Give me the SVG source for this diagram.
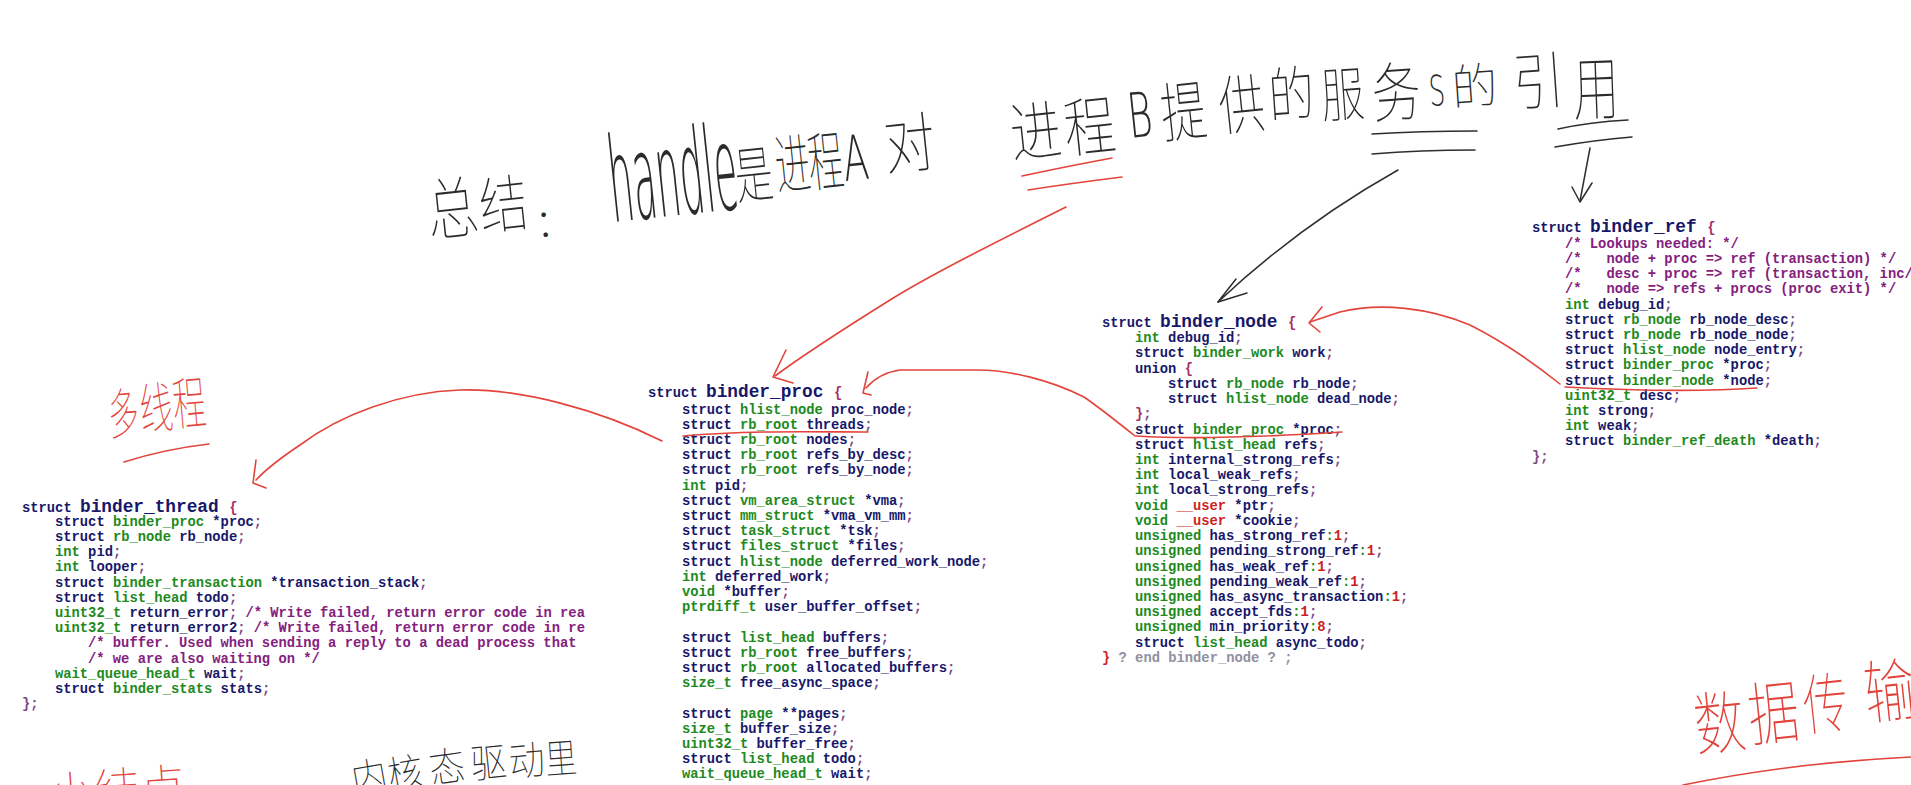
<svg xmlns="http://www.w3.org/2000/svg" width="1911" height="785" viewBox="0 0 1911 785">
<style>
.c{font-family:"Liberation Mono","Courier New",monospace;font-weight:bold;font-size:13.8px;white-space:pre}
.h{font-size:17.8px}
.n{fill:#17176a}
.g{fill:#208a20}
.p{fill:#7c4a88}
.m{fill:#84207e}
.r{fill:#cc2222}
.b{fill:#a8306a}
.e{fill:#9090a0}
.hr{fill:none;stroke:#e2433b;stroke-width:1.6;stroke-linecap:round;stroke-linejoin:round}
.hb{fill:none;stroke:#2e2e2e;stroke-width:1.5;stroke-linecap:round;stroke-linejoin:round}
.cjk{font-family:"Noto Sans CJK SC","Noto Sans CJK JP",sans-serif;font-weight:100;text-anchor:middle}
.lat{font-family:"DejaVu Sans","Liberation Sans",sans-serif;font-weight:200}
.tk{fill:#2b2b2b}
.tr{fill:#e2433b}
</style>
<defs>
<clipPath id="clipThread"><rect x="0" y="0" width="590" height="785"/></clipPath>
</defs>
<rect width="1911" height="785" fill="#ffffff"/>

<g id="binder_thread" class="c" clip-path="url(#clipThread)" xml:space="preserve">
<text x="22" y="511.5"><tspan class="n">struct </tspan><tspan class="n h">binder_thread </tspan><tspan class="b">{</tspan></text>
<text x="55" y="525.7"><tspan class="n">struct </tspan><tspan class="g">binder_proc</tspan><tspan class="n"> *proc</tspan><tspan class="p">;</tspan></text>
<text x="55" y="540.9"><tspan class="n">struct </tspan><tspan class="g">rb_node</tspan><tspan class="n"> rb_node</tspan><tspan class="p">;</tspan></text>
<text x="55" y="556.1"><tspan class="g">int</tspan><tspan class="n"> pid</tspan><tspan class="p">;</tspan></text>
<text x="55" y="571.3"><tspan class="g">int</tspan><tspan class="n"> looper</tspan><tspan class="p">;</tspan></text>
<text x="55" y="586.5"><tspan class="n">struct </tspan><tspan class="g">binder_transaction</tspan><tspan class="n"> *transaction_stack</tspan><tspan class="p">;</tspan></text>
<text x="55" y="601.7"><tspan class="n">struct </tspan><tspan class="g">list_head</tspan><tspan class="n"> todo</tspan><tspan class="p">;</tspan></text>
<text x="55" y="616.9"><tspan class="g">uint32_t</tspan><tspan class="n"> return_error</tspan><tspan class="p">; </tspan><tspan class="m">/* Write failed, return error code in rea</tspan></text>
<text x="55" y="632.1"><tspan class="g">uint32_t</tspan><tspan class="n"> return_error2</tspan><tspan class="p">; </tspan><tspan class="m">/* Write failed, return error code in re</tspan></text>
<text x="88" y="647.3"><tspan class="m">/* buffer. Used when sending a reply to a dead process that</tspan></text>
<text x="88" y="662.5"><tspan class="m">/* we are also waiting on */</tspan></text>
<text x="55" y="677.7"><tspan class="g">wait_queue_head_t</tspan><tspan class="n"> wait</tspan><tspan class="p">;</tspan></text>
<text x="55" y="692.9"><tspan class="n">struct </tspan><tspan class="g">binder_stats</tspan><tspan class="n"> stats</tspan><tspan class="p">;</tspan></text>
<text x="22" y="708.1"><tspan class="p">};</tspan></text>
</g>

<g id="binder_proc" class="c" xml:space="preserve">
<text x="648" y="397"><tspan class="n">struct </tspan><tspan class="n h">binder_proc </tspan><tspan class="b">{</tspan></text>
<text x="682" y="413.5"><tspan class="n">struct </tspan><tspan class="g">hlist_node</tspan><tspan class="n"> proc_node</tspan><tspan class="p">;</tspan></text>
<text x="682" y="428.7"><tspan class="n">struct </tspan><tspan class="g">rb_root</tspan><tspan class="n"> threads</tspan><tspan class="p">;</tspan></text>
<text x="682" y="443.9"><tspan class="n">struct </tspan><tspan class="g">rb_root</tspan><tspan class="n"> nodes</tspan><tspan class="p">;</tspan></text>
<text x="682" y="459.1"><tspan class="n">struct </tspan><tspan class="g">rb_root</tspan><tspan class="n"> refs_by_desc</tspan><tspan class="p">;</tspan></text>
<text x="682" y="474.3"><tspan class="n">struct </tspan><tspan class="g">rb_root</tspan><tspan class="n"> refs_by_node</tspan><tspan class="p">;</tspan></text>
<text x="682" y="489.5"><tspan class="g">int</tspan><tspan class="n"> pid</tspan><tspan class="p">;</tspan></text>
<text x="682" y="504.7"><tspan class="n">struct </tspan><tspan class="g">vm_area_struct</tspan><tspan class="n"> *vma</tspan><tspan class="p">;</tspan></text>
<text x="682" y="519.9"><tspan class="n">struct </tspan><tspan class="g">mm_struct</tspan><tspan class="n"> *vma_vm_mm</tspan><tspan class="p">;</tspan></text>
<text x="682" y="535.1"><tspan class="n">struct </tspan><tspan class="g">task_struct</tspan><tspan class="n"> *tsk</tspan><tspan class="p">;</tspan></text>
<text x="682" y="550.3"><tspan class="n">struct </tspan><tspan class="g">files_struct</tspan><tspan class="n"> *files</tspan><tspan class="p">;</tspan></text>
<text x="682" y="565.5"><tspan class="n">struct </tspan><tspan class="g">hlist_node</tspan><tspan class="n"> deferred_work_node</tspan><tspan class="p">;</tspan></text>
<text x="682" y="580.7"><tspan class="g">int</tspan><tspan class="n"> deferred_work</tspan><tspan class="p">;</tspan></text>
<text x="682" y="595.9"><tspan class="g">void</tspan><tspan class="n"> *buffer</tspan><tspan class="p">;</tspan></text>
<text x="682" y="611.1"><tspan class="g">ptrdiff_t</tspan><tspan class="n"> user_buffer_offset</tspan><tspan class="p">;</tspan></text>
<text x="682" y="641.5"><tspan class="n">struct </tspan><tspan class="g">list_head</tspan><tspan class="n"> buffers</tspan><tspan class="p">;</tspan></text>
<text x="682" y="656.7"><tspan class="n">struct </tspan><tspan class="g">rb_root</tspan><tspan class="n"> free_buffers</tspan><tspan class="p">;</tspan></text>
<text x="682" y="671.9"><tspan class="n">struct </tspan><tspan class="g">rb_root</tspan><tspan class="n"> allocated_buffers</tspan><tspan class="p">;</tspan></text>
<text x="682" y="687.1"><tspan class="g">size_t</tspan><tspan class="n"> free_async_space</tspan><tspan class="p">;</tspan></text>
<text x="682" y="717.5"><tspan class="n">struct </tspan><tspan class="g">page</tspan><tspan class="n"> **pages</tspan><tspan class="p">;</tspan></text>
<text x="682" y="732.7"><tspan class="g">size_t</tspan><tspan class="n"> buffer_size</tspan><tspan class="p">;</tspan></text>
<text x="682" y="747.9"><tspan class="g">uint32_t</tspan><tspan class="n"> buffer_free</tspan><tspan class="p">;</tspan></text>
<text x="682" y="763.1"><tspan class="n">struct </tspan><tspan class="g">list_head</tspan><tspan class="n"> todo</tspan><tspan class="p">;</tspan></text>
<text x="682" y="778.3"><tspan class="g">wait_queue_head_t</tspan><tspan class="n"> wait</tspan><tspan class="p">;</tspan></text>
</g>

<g id="binder_node" class="c" xml:space="preserve">
<text x="1102" y="326.5"><tspan class="n">struct </tspan><tspan class="n h">binder_node </tspan><tspan class="b">{</tspan></text>
<text x="1135" y="342.2"><tspan class="g">int</tspan><tspan class="n"> debug_id</tspan><tspan class="p">;</tspan></text>
<text x="1135" y="357.4"><tspan class="n">struct </tspan><tspan class="g">binder_work</tspan><tspan class="n"> work</tspan><tspan class="p">;</tspan></text>
<text x="1135" y="372.6"><tspan class="n">union </tspan><tspan class="b">{</tspan></text>
<text x="1168" y="387.9"><tspan class="n">struct </tspan><tspan class="g">rb_node</tspan><tspan class="n"> rb_node</tspan><tspan class="p">;</tspan></text>
<text x="1168" y="403.1"><tspan class="n">struct </tspan><tspan class="g">hlist_node</tspan><tspan class="n"> dead_node</tspan><tspan class="p">;</tspan></text>
<text x="1135" y="418.3"><tspan class="b">}</tspan><tspan class="p">;</tspan></text>
<text x="1135" y="433.5"><tspan class="n">struct </tspan><tspan class="g">binder_proc</tspan><tspan class="n"> *proc</tspan><tspan class="p">;</tspan></text>
<text x="1135" y="448.7"><tspan class="n">struct </tspan><tspan class="g">hlist_head</tspan><tspan class="n"> refs</tspan><tspan class="p">;</tspan></text>
<text x="1135" y="464"><tspan class="g">int</tspan><tspan class="n"> internal_strong_refs</tspan><tspan class="p">;</tspan></text>
<text x="1135" y="479.2"><tspan class="g">int</tspan><tspan class="n"> local_weak_refs</tspan><tspan class="p">;</tspan></text>
<text x="1135" y="494.4"><tspan class="g">int</tspan><tspan class="n"> local_strong_refs</tspan><tspan class="p">;</tspan></text>
<text x="1135" y="509.6"><tspan class="g">void </tspan><tspan class="r">__user</tspan><tspan class="n"> *ptr</tspan><tspan class="p">;</tspan></text>
<text x="1135" y="524.8"><tspan class="g">void </tspan><tspan class="r">__user</tspan><tspan class="n"> *cookie</tspan><tspan class="p">;</tspan></text>
<text x="1135" y="540.1"><tspan class="g">unsigned</tspan><tspan class="n"> has_strong_ref</tspan><tspan class="g">:</tspan><tspan class="r">1</tspan><tspan class="p">;</tspan></text>
<text x="1135" y="555.3"><tspan class="g">unsigned</tspan><tspan class="n"> pending_strong_ref</tspan><tspan class="g">:</tspan><tspan class="r">1</tspan><tspan class="p">;</tspan></text>
<text x="1135" y="570.5"><tspan class="g">unsigned</tspan><tspan class="n"> has_weak_ref</tspan><tspan class="g">:</tspan><tspan class="r">1</tspan><tspan class="p">;</tspan></text>
<text x="1135" y="585.7"><tspan class="g">unsigned</tspan><tspan class="n"> pending_weak_ref</tspan><tspan class="g">:</tspan><tspan class="r">1</tspan><tspan class="p">;</tspan></text>
<text x="1135" y="600.9"><tspan class="g">unsigned</tspan><tspan class="n"> has_async_transaction</tspan><tspan class="g">:</tspan><tspan class="r">1</tspan><tspan class="p">;</tspan></text>
<text x="1135" y="616.2"><tspan class="g">unsigned</tspan><tspan class="n"> accept_fds</tspan><tspan class="g">:</tspan><tspan class="r">1</tspan><tspan class="p">;</tspan></text>
<text x="1135" y="631.4"><tspan class="g">unsigned</tspan><tspan class="n"> min_priority</tspan><tspan class="g">:</tspan><tspan class="r">8</tspan><tspan class="p">;</tspan></text>
<text x="1135" y="646.6"><tspan class="n">struct </tspan><tspan class="g">list_head</tspan><tspan class="n"> async_todo</tspan><tspan class="p">;</tspan></text>
<text x="1102" y="661.8"><tspan class="r">}</tspan><tspan class="e"> ? end binder_node ? ;</tspan></text>
</g>

<g id="binder_ref" class="c" xml:space="preserve">
<text x="1532" y="231.5"><tspan class="n">struct </tspan><tspan class="n h">binder_ref </tspan><tspan class="b">{</tspan></text>
<text x="1565" y="247.8"><tspan class="m">/* Lookups needed: */</tspan></text>
<text x="1565" y="263"><tspan class="m">/*&#160;&#160; node + proc =&gt; ref (transaction) */</tspan></text>
<text x="1565" y="278.2"><tspan class="m">/*&#160;&#160; desc + proc =&gt; ref (transaction, inc/</tspan></text>
<text x="1565" y="293.4"><tspan class="m">/*&#160;&#160; node =&gt; refs + procs (proc exit) */</tspan></text>
<text x="1565" y="308.6"><tspan class="g">int</tspan><tspan class="n"> debug_id</tspan><tspan class="p">;</tspan></text>
<text x="1565" y="323.8"><tspan class="n">struct </tspan><tspan class="g">rb_node</tspan><tspan class="n"> rb_node_desc</tspan><tspan class="p">;</tspan></text>
<text x="1565" y="338.9"><tspan class="n">struct </tspan><tspan class="g">rb_node</tspan><tspan class="n"> rb_node_node</tspan><tspan class="p">;</tspan></text>
<text x="1565" y="354.1"><tspan class="n">struct </tspan><tspan class="g">hlist_node</tspan><tspan class="n"> node_entry</tspan><tspan class="p">;</tspan></text>
<text x="1565" y="369.3"><tspan class="n">struct </tspan><tspan class="g">binder_proc</tspan><tspan class="n"> *proc</tspan><tspan class="p">;</tspan></text>
<text x="1565" y="384.5"><tspan class="n">struct </tspan><tspan class="g">binder_node</tspan><tspan class="n"> *node</tspan><tspan class="p">;</tspan></text>
<text x="1565" y="399.7"><tspan class="g">uint32_t</tspan><tspan class="n"> desc</tspan><tspan class="p">;</tspan></text>
<text x="1565" y="414.9"><tspan class="g">int</tspan><tspan class="n"> strong</tspan><tspan class="p">;</tspan></text>
<text x="1565" y="430.1"><tspan class="g">int</tspan><tspan class="n"> weak</tspan><tspan class="p">;</tspan></text>
<text x="1565" y="445.3"><tspan class="n">struct </tspan><tspan class="g">binder_ref_death</tspan><tspan class="n"> *death</tspan><tspan class="p">;</tspan></text>
<text x="1532" y="460.5"><tspan class="p">};</tspan></text>
</g>

<g id="title" font-size="54">
<text class="cjk tk" transform="translate(455,233) rotate(-6) scale(0.95,1.25)">总</text>
<text class="cjk tk" transform="translate(506,227) rotate(-6) scale(0.9,1.15)">结</text>
<text class="cjk tk" font-size="40" transform="translate(556,236) rotate(-6)">：</text>
<text class="lat tk" font-size="118" transform="translate(613,222) rotate(-6) scale(0.32,1)">handle</text>
<text class="cjk tk" transform="translate(756,197) rotate(-6) scale(0.7,1.15)">是</text>
<text class="cjk tk" transform="translate(795,188) rotate(-6) scale(0.65,1.2)">进</text>
<text class="cjk tk" transform="translate(828,185) rotate(-6) scale(0.65,1.2)">程</text>
<text class="lat tk" font-size="62" transform="translate(845,181) rotate(-6) scale(0.6,1)">A</text>
<text class="cjk tk" transform="translate(912,167) rotate(-6) scale(0.95,1.2)">对</text>
<text class="cjk tk" transform="translate(1038,155) rotate(-6) scale(0.95,1.2)">进</text>
<text class="cjk tk" transform="translate(1092,150) rotate(-6) scale(0.95,1.2)">程</text>
<text class="lat tk" font-size="62" transform="translate(1130,138) rotate(-6) scale(0.6,1)">B</text>
<text class="cjk tk" transform="translate(1186,135) rotate(-6) scale(0.85,1.2)">提</text>
<text class="cjk tk" transform="translate(1244,128) rotate(-6) scale(0.85,1.2)">供</text>
<text class="cjk tk" transform="translate(1293,116) rotate(-4) scale(0.85,1.1)">的</text>
<text class="cjk tk" transform="translate(1344,116) rotate(-4) scale(0.8,1.1)">服</text>
<text class="cjk tk" transform="translate(1398,116) rotate(-4) scale(0.9,1.2)">务</text>
<text class="lat tk" font-size="42" transform="translate(1430,106) rotate(-4) scale(0.6,1)">S</text>
<text class="cjk tk" transform="translate(1476,104) rotate(-4) scale(0.85,0.9)">的</text>
<text class="cjk tk" transform="translate(1540,104) rotate(-4) scale(0.95,1.15)">引</text>
<text class="cjk tk" transform="translate(1597,114) rotate(-2) scale(0.85,1.3)">用</text>
</g>

<g id="note_multithread">
<text class="cjk tr" font-size="44" transform="translate(125,434) rotate(-5) scale(0.7,1.25)">多</text>
<text class="cjk tr" font-size="44" transform="translate(158,428) rotate(-5) scale(0.75,1.25)">线</text>
<text class="cjk tr" font-size="44" transform="translate(191,424) rotate(-5) scale(0.75,1.3)">程</text>
<path class="hr" d="M124 462 Q165 449 209 444"/>
</g>

<g id="note_data">
<text class="cjk tr" font-size="60" transform="translate(1722,748) rotate(-6) scale(0.85,1.15)">数</text>
<text class="cjk tr" font-size="60" transform="translate(1776,738) rotate(-6) scale(0.85,1.15)">据</text>
<text class="cjk tr" font-size="60" transform="translate(1828,728) rotate(-6) scale(0.75,1.1)">传</text>
<text class="cjk tr" font-size="60" transform="translate(1892,716) rotate(-6) scale(0.85,1.15)">输</text>
<path class="hr" d="M1683 785 Q1790 763 1911 757"/>
</g>

<g id="note_bottom">
<text class="cjk tr" font-size="46" transform="translate(118,806) rotate(-4)">小结点</text>
<text class="cjk tk" font-size="40" transform="translate(372,792) rotate(-10) scale(0.9,1)">内</text>
<text class="cjk tk" font-size="40" transform="translate(408,788) rotate(-10) scale(0.9,1)">核</text>
<text class="cjk tk" font-size="40" transform="translate(449,781) rotate(-8) scale(0.9,1)">态</text>
<text class="cjk tk" font-size="40" transform="translate(490,777) rotate(-6) scale(0.9,1)">驱</text>
<text class="cjk tk" font-size="40" transform="translate(528,775) rotate(-5) scale(0.9,1)">动</text>
<text class="cjk tk" font-size="40" transform="translate(562,773) rotate(-4) scale(0.8,1)">里</text>
</g>

<g id="connectors">
<path class="hr" d="M1022 176 C1050 170 1080 164 1112 158"/>
<path class="hr" d="M1028 190 C1060 185 1090 181 1122 177"/>
<path class="hb" d="M1372 134 Q1420 131 1477 131"/>
<path class="hb" d="M1372 154 Q1420 150 1475 150"/>
<path class="hb" d="M1558 129 Q1590 122 1628 120"/>
<path class="hb" d="M1555 147 Q1595 140 1632 137"/>
<path class="hb" d="M1590 148 Q1585 175 1580 201"/>
<path class="hb" d="M1572 187 L1580 202 L1592 183"/>
<path class="hb" d="M1398 170 Q1300 225 1218 302"/>
<path class="hb" d="M1236 279 L1218 302 L1247 293"/>
<path class="hr" d="M1066 207 C1000 240 930 275 890 300 C850 325 810 350 775 376"/>
<path class="hr" d="M786 350 L773 377 L793 383"/>
<path class="hr" d="M1135 436 C1115 420 1100 408 1084 397 C1050 380 1010 370 977 370 L900 370 C885 372 875 378 866 388"/>
<path class="hr" d="M868 372 L863 393 L871 395"/>
<path class="hr" d="M1136 436 C1200 440 1280 436 1342 432"/>
<path class="hr" d="M662 441 C600 410 520 388 460 390 C400 392 340 415 300 445 Q270 465 256 480"/>
<path class="hr" d="M256 460 L253 483 L266 488"/>
<path class="hr" d="M683 436 C750 430 820 432 868 432"/>
<path class="hr" d="M1560 384 C1530 360 1500 340 1470 325 C1430 308 1380 302 1340 312 L1310 322"/>
<path class="hr" d="M1322 307 L1309 323 L1320 332"/>
<path class="hr" d="M1565 387 C1640 391 1700 392 1757 388"/>
</g>
</svg>
